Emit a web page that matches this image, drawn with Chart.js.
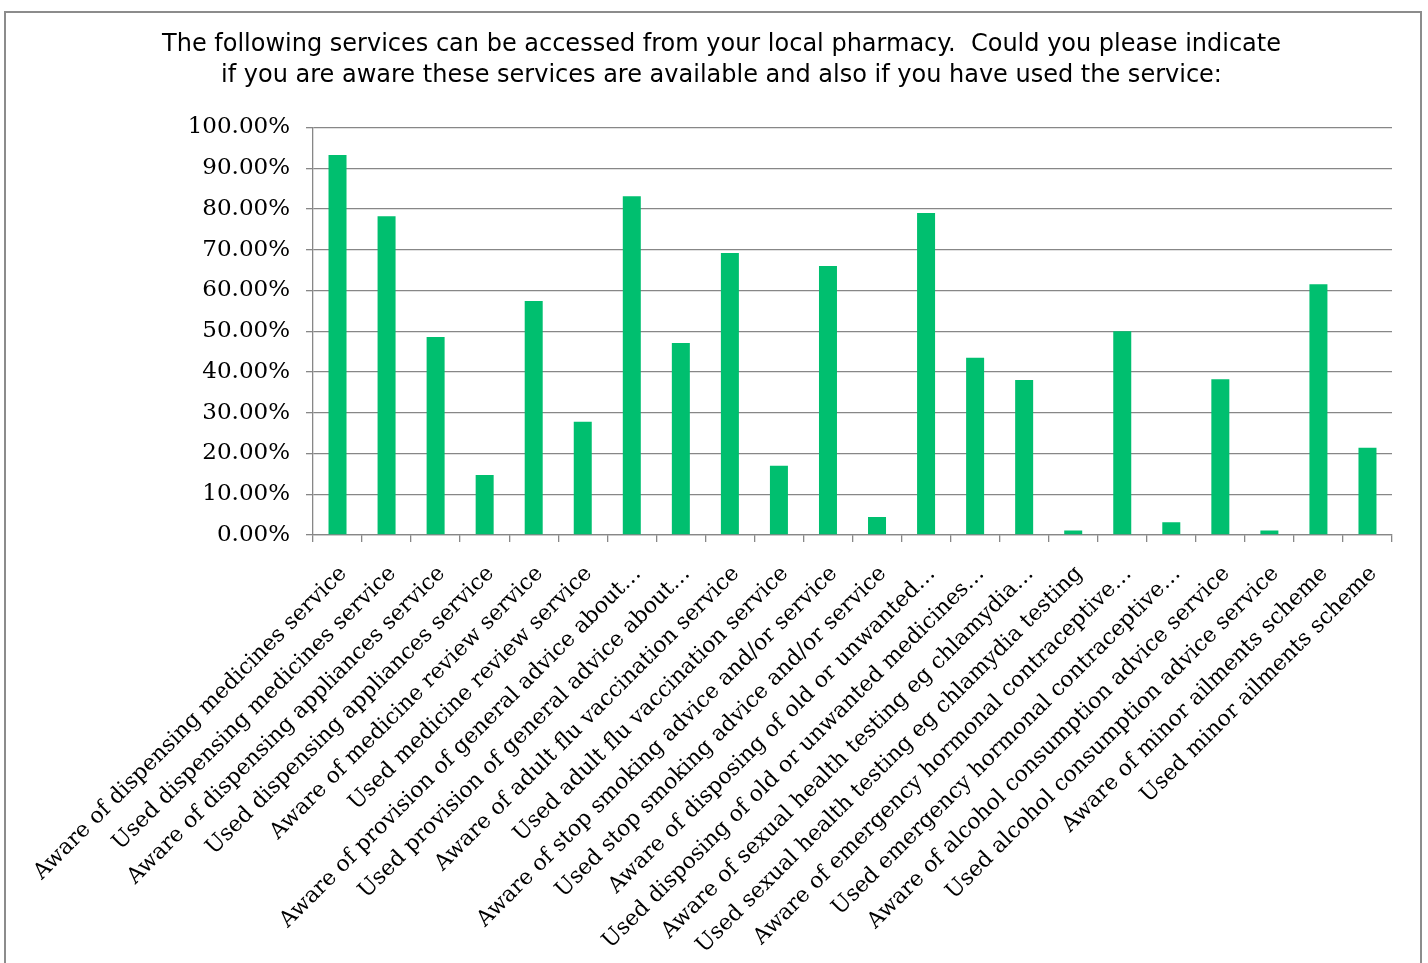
<!DOCTYPE html>
<html>
<head>
<meta charset="utf-8">
<script src="https://cdn.jsdelivr.net/npm/chart.js@4"></script>
<style>
  html, body { margin: 0; padding: 0; background: #fff; }
  #frame { position: absolute; left: 4px; top: 11px; width: 1414px; height: 1000px; border: 2px solid #8c8c8c; }
  #wrap { position: absolute; left: 0; top: 0; width: 1428px; height: 963px; }
</style>
</head>
<body>
<div id="frame"></div>
<div id="wrap"><canvas id="chart" width="1428" height="963"></canvas></div>
<script>
const titleLines = [
    'The following services can be accessed from your local pharmacy.  Could you please indicate',
    'if you are aware these services are available and also if you have used the service:'
];

const categories = [
    'Aware of dispensing medicines service',
    'Used dispensing medicines service',
    'Aware of dispensing appliances service',
    'Used dispensing appliances service',
    'Aware of medicine review service',
    'Used medicine review service',
    'Aware of provision of general advice about…',
    'Used provision of general advice about…',
    'Aware of adult flu vaccination service',
    'Used adult flu vaccination service',
    'Aware of stop smoking advice and/or service',
    'Used stop smoking advice and/or service',
    'Aware of disposing of old or unwanted…',
    'Used disposing of old or unwanted medicines…',
    'Aware of sexual health testing eg chlamydia…',
    'Used sexual health testing eg chlamydia testing',
    'Aware of emergency hormonal contraceptive…',
    'Used emergency hormonal contraceptive…',
    'Aware of alcohol consumption advice service',
    'Used alcohol consumption advice service',
    'Aware of minor ailments scheme',
    'Used minor ailments scheme'
];

const percentages = [
    93.2, 78.2, 48.6, 14.7, 57.4, 27.8, 83.1, 47.1, 69.2, 17.0, 66.0,
    4.4, 79.0, 43.5, 38.0, 1.1, 50.0, 3.1, 38.2, 1.1, 61.5, 21.4
];

const gridGray = '#878787';

const ctx = document.getElementById('chart').getContext('2d');
new Chart(ctx, {
    type: 'bar',
    data: {
        labels: categories,
        datasets: [{
            data: percentages,
            backgroundColor: '#00bf6f',
            borderWidth: 0,
            barPercentage: 0.367,
            categoryPercentage: 1.0
        }]
    },
    options: {
        responsive: false,
        animation: false,
        layout: { padding: { top: 0, left: 51, right: 36, bottom: 0 } },
        plugins: {
            legend: { display: false },
            tooltip: { enabled: false },
            title: {
                display: true,
                text: titleLines,
                color: '#000',
                font: { family: 'DejaVu Sans', size: 24, weight: 'normal', lineHeight: 1.3 },
                padding: { top: 29, bottom: 36 }
            }
        },
        scales: {
            y: {
                min: 0,
                max: 100,
                ticks: {
                    stepSize: 10,
                    color: '#000',
                    padding: 16,
                    font: { family: 'DejaVu Serif', size: 23 },
                    callback: v => v.toFixed(2) + '%'
                },
                grid: { color: gridGray, lineWidth: 1.3, tickLength: 7 },
                border: { color: gridGray, width: 1.3 },
                afterFit: s => { s.width = 262; }
            },
            x: {
                ticks: {
                    color: '#000',
                    autoSkip: false,
                    minRotation: 45,
                    maxRotation: 45,
                    padding: 19,
                    labelOffset: 6,
                    font: { family: 'DejaVu Serif', size: 22 }
                },
                grid: { display: true, drawOnChartArea: false, color: gridGray, lineWidth: 1.3, tickLength: 7, offset: true },
                border: { color: gridGray, width: 1.3 },
                afterFit: s => { s.height = 428; }
            }
        }
    }
});
</script>
</body>
</html>
